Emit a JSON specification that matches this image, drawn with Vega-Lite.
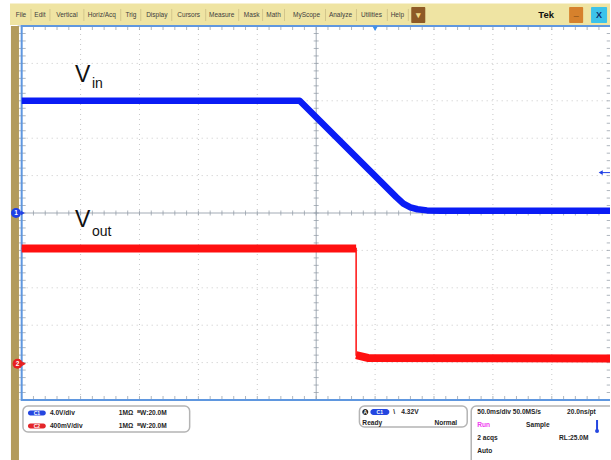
{
"$schema":"https://vega.github.io/schema/vega-lite/v6.json",
"width":611,"height":460,
"autosize":{"type":"fit","contains":"padding"},
"padding":0,
"background":"#ffffff",
"config":{"view":{"stroke":null}},
"datasets":{
 "xt":[{"p":-300},{"p":-290},{"p":-280},{"p":-270},{"p":-260},{"p":-250},{"p":-240},{"p":-230},{"p":-220},{"p":-210},{"p":-200},{"p":-190},{"p":-180},{"p":-170},{"p":-160},{"p":-150},{"p":-140},{"p":-130},{"p":-120},{"p":-110},{"p":-100},{"p":-90},{"p":-80},{"p":-70},{"p":-60},{"p":-50},{"p":-40},{"p":-30},{"p":-20},{"p":-10},{"p":0},{"p":10},{"p":20},{"p":30},{"p":40},{"p":50},{"p":60},{"p":70},{"p":80},{"p":90},{"p":100},{"p":110},{"p":120},{"p":130},{"p":140},{"p":150},{"p":160},{"p":170},{"p":180},{"p":190},{"p":200}],
 "yt":[{"p":-5},{"p":-4.8},{"p":-4.6},{"p":-4.4},{"p":-4.2},{"p":-4},{"p":-3.8},{"p":-3.6},{"p":-3.4},{"p":-3.2},{"p":-3},{"p":-2.8},{"p":-2.6},{"p":-2.4},{"p":-2.2},{"p":-2},{"p":-1.8},{"p":-1.6},{"p":-1.4},{"p":-1.2},{"p":-1},{"p":-0.8},{"p":-0.6},{"p":-0.4},{"p":-0.2},{"p":0},{"p":0.2},{"p":0.4},{"p":0.6},{"p":0.8},{"p":1},{"p":1.2},{"p":1.4},{"p":1.6},{"p":1.8},{"p":2},{"p":2.2},{"p":2.4},{"p":2.6},{"p":2.8},{"p":3},{"p":3.2},{"p":3.4},{"p":3.6},{"p":3.8},{"p":4},{"p":4.2},{"p":4.4},{"p":4.6},{"p":4.8},{"p":5}]
},
"resolve":{"scale":{"y":"independent"}},
"layer":[
 {
  "encoding":{
   "x":{"field":"x","type":"quantitative","scale":{"domain":[-318.4,199.4],"nice":false,"zero":false},"axis":null},
   "y":{"field":"y","type":"quantitative","scale":{"domain":[-6.604,5.695],"nice":false,"zero":false},"axis":null}
  },
  "layer":[
   {"data":{"values":[
     {"x":-250,"y":-5,"x2":-250,"y2":5},{"x":-200,"y":-5,"x2":-200,"y2":5},{"x":-150,"y":-5,"x2":-150,"y2":5},{"x":-100,"y":-5,"x2":-100,"y2":5},
     {"x":0,"y":-5,"x2":0,"y2":5},{"x":50,"y":-5,"x2":50,"y2":5},{"x":100,"y":-5,"x2":100,"y2":5},{"x":150,"y":-5,"x2":150,"y2":5},
     {"x":-300,"y":-4,"x2":200,"y2":-4},{"x":-300,"y":-3,"x2":200,"y2":-3},{"x":-300,"y":-2,"x2":200,"y2":-2},{"x":-300,"y":-1,"x2":200,"y2":-1},
     {"x":-300,"y":1,"x2":200,"y2":1},{"x":-300,"y":2,"x2":200,"y2":2},{"x":-300,"y":3,"x2":200,"y2":3},{"x":-300,"y":4,"x2":200,"y2":4}]},
    "mark":{"type":"rule","color":"#c8c8c8","strokeDash":[1,4],"strokeWidth":1,"clip":true},
    "encoding":{"x2":{"field":"x2"},"y2":{"field":"y2"}}},
   {"data":{"values":[{"x":-50,"y":-5,"x2":-50,"y2":5},{"x":-300,"y":0,"x2":200,"y2":0}]},
    "mark":{"type":"rule","color":"#a3abb5","strokeWidth":1,"clip":true},
    "encoding":{"x2":{"field":"x2"},"y2":{"field":"y2"}}}
  ]
 },
 {
  "layer":[
   {"data":{"name":"xt"},"mark":{"type":"tick","orient":"vertical","size":5,"thickness":1,"color":"#8d97a3","clip":true},
    "encoding":{"x":{"field":"p","type":"quantitative","scale":{"domain":[-318.4,199.4],"nice":false,"zero":false},"axis":null},
     "y":{"datum":0,"type":"quantitative","scale":{"domain":[-6.604,5.695],"nice":false,"zero":false},"axis":null}}},
   {"data":{"name":"xt"},"mark":{"type":"tick","orient":"vertical","size":8,"thickness":1,"color":"#8d97a3","clip":true},
    "encoding":{"x":{"field":"p","type":"quantitative","scale":{"domain":[-318.4,199.4],"nice":false,"zero":false},"axis":null},
     "y":{"datum":5,"type":"quantitative","scale":{"domain":[-6.604,5.695],"nice":false,"zero":false},"axis":null}}},
   {"data":{"name":"xt"},"mark":{"type":"tick","orient":"vertical","size":8,"thickness":1,"color":"#8d97a3","clip":true},
    "encoding":{"x":{"field":"p","type":"quantitative","scale":{"domain":[-318.4,199.4],"nice":false,"zero":false},"axis":null},
     "y":{"datum":-5,"type":"quantitative","scale":{"domain":[-6.604,5.695],"nice":false,"zero":false},"axis":null}}},
   {"data":{"name":"yt"},"mark":{"type":"tick","orient":"horizontal","size":5,"thickness":1,"color":"#8d97a3","clip":true},
    "encoding":{"y":{"field":"p","type":"quantitative","scale":{"domain":[-6.604,5.695],"nice":false,"zero":false},"axis":null},
     "x":{"datum":-50,"type":"quantitative","scale":{"domain":[-318.4,199.4],"nice":false,"zero":false},"axis":null}}},
   {"data":{"name":"yt"},"mark":{"type":"tick","orient":"horizontal","size":8,"thickness":1,"color":"#8d97a3","clip":true},
    "encoding":{"y":{"field":"p","type":"quantitative","scale":{"domain":[-6.604,5.695],"nice":false,"zero":false},"axis":null},
     "x":{"datum":-300,"type":"quantitative","scale":{"domain":[-318.4,199.4],"nice":false,"zero":false},"axis":null}}},
   {"data":{"name":"yt"},"mark":{"type":"tick","orient":"horizontal","size":8,"thickness":1,"color":"#8d97a3","clip":true},
    "encoding":{"y":{"field":"p","type":"quantitative","scale":{"domain":[-6.604,5.695],"nice":false,"zero":false},"axis":null},
     "x":{"datum":200,"type":"quantitative","scale":{"domain":[-318.4,199.4],"nice":false,"zero":false},"axis":null}}}
  ]
 },
 {
  "encoding":{
   "x":{"field":"x","type":"quantitative","scale":{"domain":[-318.4,199.4],"nice":false,"zero":false},"axis":null},
   "y":{"field":"y","type":"quantitative","scale":{"domain":[-6.604,5.695],"nice":false,"zero":false},"axis":null}
  },
  "resolve":{"scale":{"color":"independent"}},
  "layer":[
   {"data":{"values":[{"x":-320,"y":-5,"x2":210,"y2":-7}]},"mark":{"type":"rect","color":"#ffffff","clip":true},
    "encoding":{"x2":{"field":"x2"},"y2":{"field":"y2"}}},
   {"data":{"values":[{"x":-300,"y":-5,"x2":200.6,"y2":5}]},"mark":{"type":"rect","fillOpacity":0,"stroke":"#5f97df","strokeWidth":2,"clip":true},
    "encoding":{"x2":{"field":"x2"},"y2":{"field":"y2"}}},
   {"data":{"values":[{"x":-309.9,"y":5.027,"x2":210,"y2":5.6}]},"mark":{"type":"rect","color":"#efe4a3","clip":true},
    "encoding":{"x2":{"field":"x2"},"y2":{"field":"y2"}}},
   {"data":{"values":[{"x":-292.1,"y":5.455,"y2":5.134},{"x":-276.0,"y":5.455,"y2":5.134},{"x":-247.2,"y":5.455,"y2":5.134},{"x":-215.9,"y":5.455,"y2":5.134},{"x":-198.9,"y":5.455,"y2":5.134},{"x":-172.6,"y":5.455,"y2":5.134},{"x":-143.8,"y":5.455,"y2":5.134},{"x":-115.8,"y":5.455,"y2":5.134},{"x":-95.5,"y":5.455,"y2":5.134},{"x":-76.9,"y":5.455,"y2":5.134},{"x":-42.1,"y":5.455,"y2":5.134},{"x":-15.8,"y":5.455,"y2":5.134},{"x":10.4,"y":5.455,"y2":5.134},{"x":28.2,"y":5.455,"y2":5.134}]},
    "mark":{"type":"rule","color":"#d3c68b","strokeWidth":1},
    "encoding":{"y2":{"field":"y2"}}},
   {"data":{"values":[{"x":30.7,"x2":42.6,"y":5.508,"y2":5.08,"b":"menu"},{"x":164.7,"x2":176.6,"y":5.508,"y2":5.08,"b":"min"},{"x":183.3,"x2":196.9,"y":5.508,"y2":5.08,"b":"close"}]},
    "mark":{"type":"rect","cornerRadius":1},
    "encoding":{"x2":{"field":"x2"},"y2":{"field":"y2"},
     "color":{"field":"b","type":"nominal","scale":{"domain":["menu","min","close"],"range":["#8e5a26","#d6812c","#3cc3ea"]},"legend":null}}},
   {"data":{"values":[{"x":36.6,"y":5.294,"s":"▾","b":"menu"},{"x":170.7,"y":5.36,"s":"_","b":"min"},{"x":190.1,"y":5.294,"s":"X","b":"close"}]},
    "mark":{"type":"text","font":"Liberation Sans","fontSize":9,"fontWeight":"bold","baseline":"middle"},
    "encoding":{"text":{"field":"s"},
     "color":{"field":"b","type":"nominal","scale":{"domain":["menu","min","close"],"range":["#f3dc8a","#4a2a05","#0d2f6e"]},"legend":null}}},
   {"data":{"values":[{"x":-300.6,"y":5.294,"s":"File"},{"x":-284.5,"y":5.294,"s":"Edit"},{"x":-261.6,"y":5.294,"s":"Vertical"},{"x":-231.9,"y":5.294,"s":"Horiz/Acq"},{"x":-207.3,"y":5.294,"s":"Trig"},{"x":-185.3,"y":5.294,"s":"Display"},{"x":-158.2,"y":5.294,"s":"Cursors"},{"x":-130.2,"y":5.294,"s":"Measure"},{"x":-104.8,"y":5.294,"s":"Mask"},{"x":-86.2,"y":5.294,"s":"Math"},{"x":-58.2,"y":5.294,"s":"MyScope"},{"x":-29.4,"y":5.294,"s":"Analyze"},{"x":-3.1,"y":5.294,"s":"Utilities"},{"x":18.9,"y":5.294,"s":"Help"}]},
    "mark":{"type":"text","font":"Liberation Sans","fontSize":6.5,"color":"#3d3d3d","baseline":"middle","align":"center"},
    "encoding":{"text":{"field":"s"}}},
   {"data":{"values":[{"x":145.2,"y":5.294,"s":"Tek"}]},
    "mark":{"type":"text","font":"Liberation Sans","fontSize":9.5,"fontWeight":"bold","color":"#111111","baseline":"middle","align":"center"},
    "encoding":{"text":{"field":"s"}}},
   {"data":{"values":[{"x":-309.1,"y":5.0,"x2":-302.3,"y2":-7}]},"mark":{"type":"rect","color":"#b39b5c","clip":true},
    "encoding":{"x2":{"field":"x2"},"y2":{"field":"y2"}}},
   {"data":{"values":[{"x":-299.0,"y":0,"c":"b"},{"x":-298.0,"y":-4.03,"c":"r"}]},
    "mark":{"type":"point","shape":"triangle-right","filled":true,"size":20,"opacity":1},
    "encoding":{"color":{"field":"c","type":"nominal","scale":{"domain":["b","r"],"range":["#1f3fe6","#e81f1f"]},"legend":null}}},
   {"data":{"values":[{"x":-304.8,"y":0,"c":"b"},{"x":-303.5,"y":-4.03,"c":"r"}]},
    "mark":{"type":"point","shape":"circle","filled":true,"size":100,"opacity":1},
    "encoding":{"color":{"field":"c","type":"nominal","scale":{"domain":["b","r"],"range":["#1f3fe6","#e81f1f"]},"legend":null}}},
   {"data":{"values":[{"x":-304.8,"y":0,"s":"1"},{"x":-303.5,"y":-4.03,"s":"2"}]},
    "mark":{"type":"text","font":"Liberation Sans","fontSize":6.5,"fontWeight":"bold","color":"#ffffff","baseline":"middle","align":"center"},
    "encoding":{"text":{"field":"s"}}},
   {"data":{"values":[{"x":0,"y":4.93}]},
    "mark":{"type":"point","shape":"triangle-down","filled":true,"size":30,"color":"#3d8fe8","opacity":1}},
   {"data":{"values":[{"x":191.5,"y":1.08,"x2":199.4}]},
    "mark":{"type":"rule","color":"#1f3fe6","strokeWidth":1},
    "encoding":{"x2":{"field":"x2"}}},
   {"data":{"values":[{"x":191.5,"y":1.08}]},
    "mark":{"type":"point","shape":"triangle-left","filled":true,"size":22,"color":"#1f3fe6","opacity":1}},
   {"data":{"values":[{"x":-254.7,"y":3.503,"s":"V"},{"x":-254.7,"y":-0.374,"s":"V"}]},
    "mark":{"type":"text","font":"Liberation Sans","fontSize":23,"color":"#111111","baseline":"alphabetic","align":"left"},
    "encoding":{"text":{"field":"s"}}},
   {"data":{"values":[{"x":-240.4,"y":3.342,"s":"in"},{"x":-240.4,"y":-0.615,"s":"out"}]},
    "mark":{"type":"text","font":"Liberation Sans","fontSize":14,"color":"#111111","baseline":"alphabetic","align":"left"},
    "encoding":{"text":{"field":"s"}}},
   {"data":{"values":[{"x":-298.9,"y":-5.16,"x2":-157.4,"y2":-5.856},{"x":-13.3,"y":-5.16,"x2":78.2,"y2":-5.722},{"x":81.6,"y":-5.16,"x2":215,"y2":-7.2}]},
    "mark":{"type":"rect","fill":"#ffffff","stroke":"#b4b4b4","strokeWidth":1.5,"cornerRadius":5,"clip":true},
    "encoding":{"x2":{"field":"x2"},"y2":{"field":"y2"}}},
   {"data":{"values":[{"x":-294.7,"x2":-279.5,"y":-5.281,"y2":-5.414,"c":"b"},{"x":-294.7,"x2":-279.5,"y":-5.628,"y2":-5.762,"c":"r"},{"x":-4.0,"x2":12.1,"y":-5.241,"y2":-5.401,"c":"b"},{"x":-10.9,"x2":-5.8,"y":-5.241,"y2":-5.401,"c":"k"}]},
    "mark":{"type":"rect","cornerRadius":3},
    "encoding":{"x2":{"field":"x2"},"y2":{"field":"y2"},"color":{"field":"c","type":"nominal","scale":{"domain":["b","r","k"],"range":["#2446e0","#e3262a","#222222"]},"legend":null}}},
   {"data":{"values":[{"x":-287.1,"y":-5.348,"s":"C1"},{"x":-287.1,"y":-5.695,"s":"C2"},{"x":4.0,"y":-5.321,"s":"C1"},{"x":-8.3,"y":-5.321,"s":"A"}]},
    "mark":{"type":"text","font":"Liberation Sans","fontSize":5,"fontWeight":"bold","color":"#ffffff","baseline":"middle","align":"center"},
    "encoding":{"text":{"field":"s"}}},
   {"data":{"values":[
     {"x":-276.0,"y":-5.348,"s":"4.0V/div"},{"x":-276.0,"y":-5.695,"s":"400mV/div"},
     {"x":-217.5,"y":-5.348,"s":"1MΩ"},{"x":-217.5,"y":-5.695,"s":"1MΩ"},
     {"x":-202.0,"y":-5.348,"s":"ᴮW:20.0M"},{"x":-202.0,"y":-5.695,"s":"ᴮW:20.0M"},
     {"x":15.5,"y":-5.321,"s":"\\"},{"x":22.3,"y":-5.321,"s":"4.32V"},
     {"x":-10.8,"y":-5.615,"s":"Ready"},
     {"x":86.7,"y":-5.321,"s":"50.0ms/div 50.0MS/s"},{"x":163.0,"y":-5.321,"s":"20.0ns/pt"},
     {"x":128.2,"y":-5.668,"s":"Sample"},
     {"x":86.7,"y":-6.016,"s":"2 acqs"},{"x":156.2,"y":-6.016,"s":"RL:25.0M"},
     {"x":86.7,"y":-6.364,"s":"Auto"}]},
    "mark":{"type":"text","font":"Liberation Sans","fontSize":6.6,"fontWeight":"bold","color":"#1e1e1e","baseline":"middle","align":"left"},
    "encoding":{"text":{"field":"s"}}},
   {"data":{"values":[{"x":69.7,"y":-5.615,"s":"Normal"}]},
    "mark":{"type":"text","font":"Liberation Sans","fontSize":6.6,"fontWeight":"bold","color":"#1e1e1e","baseline":"middle","align":"right"},
    "encoding":{"text":{"field":"s"}}},
   {"data":{"values":[{"x":86.7,"y":-5.668,"s":"Run"}]},
    "mark":{"type":"text","font":"Liberation Sans","fontSize":6.6,"fontWeight":"bold","color":"#f03cf0","baseline":"middle","align":"left"},
    "encoding":{"text":{"field":"s"}}},
   {"data":{"values":[{"x":188.4,"y":-5.535,"y2":-5.8}]},
    "mark":{"type":"rule","color":"#2446e0","strokeWidth":2},
    "encoding":{"y2":{"field":"y2"}}},
   {"data":{"values":[{"x":188.4,"y":-5.83}]},
    "mark":{"type":"point","shape":"circle","filled":true,"size":16,"color":"#2446e0","opacity":1}}
  ]
 },
 {
  "data":{"values":[{"t":-300,"v":12.0},{"t":-64,"v":12.0},{"t":18,"v":1.7},{"t":24,"v":1.0},{"t":30,"v":0.6},{"t":36,"v":0.4},{"t":44,"v":0.28},{"t":56,"v":0.24},{"t":200,"v":0.24}]},
  "mark":{"type":"line","color":"#0a1cf5","strokeWidth":6.5,"clip":true,"strokeJoin":"round"},
  "encoding":{
   "x":{"field":"t","type":"quantitative","scale":{"domain":[-318.4,199.4],"nice":false,"zero":false},"axis":null},
   "y":{"field":"v","type":"quantitative","scale":{"domain":[-26.416,22.78],"nice":false,"zero":false},"axis":null}
  }
 },
 {
  "data":{"values":[{"i":1,"t":-300,"v":1.22,"part":"hi"},{"i":2,"t":-16.1,"v":1.22,"part":"hi"},{"i":3,"t":-16.1,"v":0.08,"part":"lo"},{"i":4,"t":-6,"v":0.05,"part":"lo"},{"i":5,"t":200,"v":0.045,"part":"lo"}]},
  "encoding":{
   "x":{"field":"t","type":"quantitative","scale":{"domain":[-318.4,199.4],"nice":false,"zero":false},"axis":null},
   "y":{"field":"v","type":"quantitative","scale":{"domain":[-1.0416,3.878],"nice":false,"zero":false},"axis":null}
  },
  "layer":[
   {"mark":{"type":"line","color":"#ff1010","strokeWidth":1.5,"clip":true},"encoding":{"order":{"field":"i","type":"quantitative"}}},
   {"mark":{"type":"line","color":"#ff1010","strokeWidth":8,"strokeCap":"butt","clip":true},"encoding":{"detail":{"field":"part","type":"nominal"},"order":{"field":"i","type":"quantitative"}}}
  ]
 }
]
}
